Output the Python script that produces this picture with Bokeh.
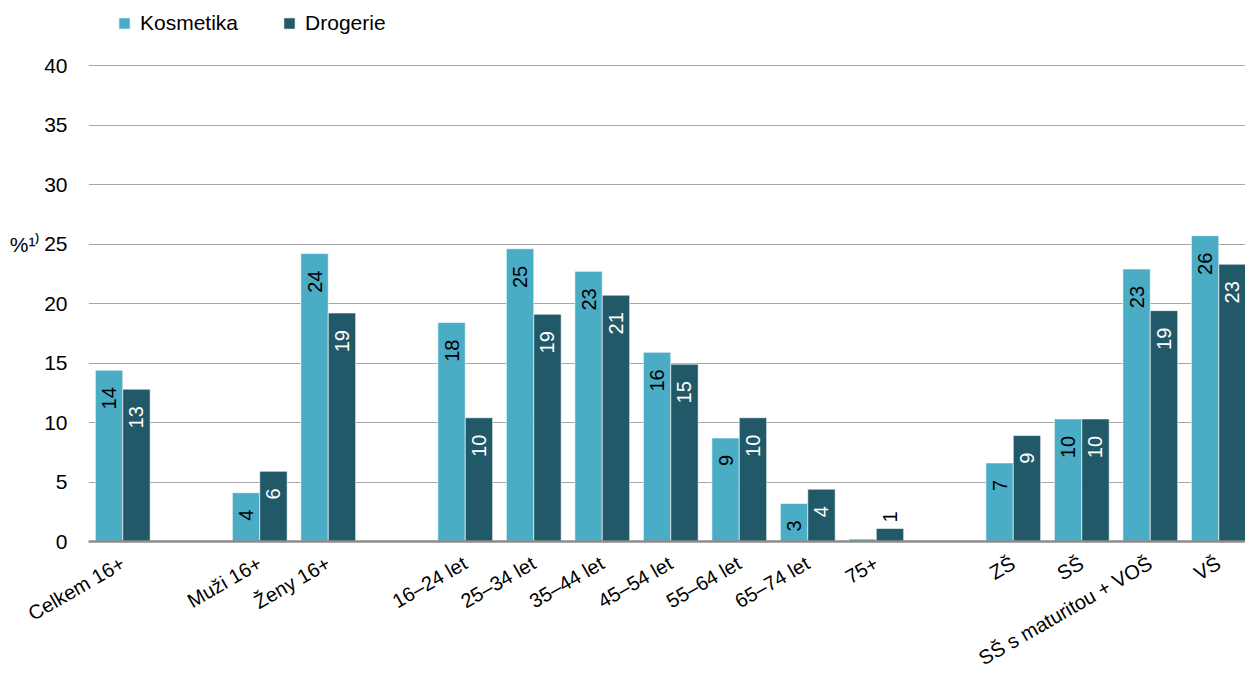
import math
from bokeh.plotting import figure
from bokeh.models import ColumnDataSource, Range1d, FixedTicker, Legend, LegendItem, LinearAxis
from bokeh.core.properties import value
from bokeh.embed import file_html
from bokeh.resources import INLINE

# ---- data (gaps are empty slots) ----
categories = ["Celkem 16+", "", "Muži 16+", "Ženy 16+", "", "16–24 let", "25–34 let",
              "35–44 let", "45–54 let", "55–64 let", "65–74 let", "75+", "",
              "ZŠ", "SŠ", "SŠ s maturitou + VOŠ", "VŠ"]
kosmetika = [14.4, None, 4.1, 24.2, None, 18.4, 24.6, 22.7, 15.9, 8.7, 3.2, 0.2, None,
             6.6, 10.3, 22.9, 25.7]
drogerie = [12.8, None, 5.9, 19.2, None, 10.4, 19.1, 20.7, 14.9, 10.4, 4.4, 1.1, None,
            8.9, 10.3, 19.4, 23.3]
y_ticks = [0, 5, 10, 15, 20, 25, 30, 35, 40]
series_names = ["Kosmetika", "Drogerie"]
series_colors = ["#4BACC6", "#215968"]
label_colors = ["#000000", "#FFFFFF"]
unit_label = "%¹⁾"
unit_level = 25

FONT = "Liberation Sans"
W, H = 1245, 682
BL, BT, BB, BR = 88, 0, 141, 0
frame_h = H - BT - BB
frame_w = W - BL - BR
top_gap_px = 65          # space above the 40 gridline (room for the legend)
y_end = 40 * frame_h / (frame_h - top_gap_px)
x_end = 16.89
px_y = y_end / frame_h  # data units per pixel (y)

p = figure(width=W, height=H, output_backend="svg", toolbar_location=None,
           x_range=Range1d(0, x_end), y_range=Range1d(0, y_end),
           min_border_left=BL, min_border_top=BT, min_border_bottom=BB, min_border_right=BR)
p.outline_line_color = None
p.background_fill_color = "white"
p.border_fill_color = "white"

bw = 0.4
renderers = []
for s, (vals, col) in enumerate(zip([kosmetika, drogerie], series_colors)):
    xs, tops = [], []
    for i, v in enumerate(vals):
        if v is None:
            continue
        xs.append(i + 0.5 + (s - 0.5) * bw)
        tops.append(v)
    src = ColumnDataSource(dict(x=xs, top=tops))
    r = p.vbar(x="x", top="top", width=bw, bottom=0, source=src,
               fill_color=col, line_color="white", line_width=0.6)
    renderers.append(r)

    # data labels
    ix, iy, it = [], [], []
    ox, oy, ot = [], [], []
    for x, v in zip(xs, tops):
        lab = str(int(v + 0.5))
        if v < 0.5:
            continue
        if v < 2:
            ox.append(x); oy.append(v + 6 * px_y); ot.append(lab)
        else:
            ix.append(x); iy.append(v - 17 * px_y); it.append(lab)
    p.text(x="x", y="y", text="t", source=ColumnDataSource(dict(x=ix, y=iy, t=it)),
           angle=math.pi / 2, text_align="right", text_baseline="middle",
           text_font=value(FONT), text_font_size="20px", text_color=label_colors[s])
    if ox:
        p.text(x="x", y="y", text="t", source=ColumnDataSource(dict(x=ox, y=oy, t=ot)),
               angle=math.pi / 2, text_align="left", text_baseline="middle",
               text_font=value(FONT), text_font_size="20px", text_color="#000000")

# axes
tick_pos = [i + 0.5 for i, c in enumerate(categories) if c]
p.xaxis.ticker = FixedTicker(ticks=tick_pos)
p.xaxis.major_label_overrides = {i + 0.5: c for i, c in enumerate(categories) if c}
p.xaxis.major_label_orientation = math.pi / 6
p.xaxis.major_label_text_font = FONT
p.xaxis.major_label_text_font_size = "20px"
p.xaxis.major_label_text_color = "#000000"
p.xaxis.major_tick_line_color = None
p.xaxis.minor_tick_line_color = None
p.xaxis.axis_line_color = "#8C8C8C"
p.xaxis.axis_line_width = 2.5
p.xaxis.major_label_standoff = 14
p.xgrid.grid_line_color = None

p.yaxis.ticker = FixedTicker(ticks=y_ticks)
p.yaxis.major_label_text_font = FONT
p.yaxis.major_label_text_font_size = "21px"
p.yaxis.major_label_text_color = "#000000"
p.yaxis.major_tick_line_color = None
p.yaxis.minor_tick_line_color = None
p.yaxis.axis_line_color = None
p.yaxis.major_label_standoff = 15
p.ygrid.grid_line_color = "#A6A6A6"
p.ygrid.grid_line_width = 1.2

# unit label "%1)" as a second left axis with a single tick at the 25 level
unit_axis = LinearAxis(ticker=FixedTicker(ticks=[unit_level]),
                       major_label_overrides={unit_level: unit_label},
                       axis_line_color=None, major_tick_line_color=None,
                       minor_tick_line_color=None, major_label_standoff=-5,
                       major_label_text_font=FONT, major_label_text_font_size="21px",
                       major_label_text_color="#000000")
p.add_layout(unit_axis, "left")

legend = Legend(items=[LegendItem(label=n, renderers=[r]) for n, r in zip(series_names, renderers)],
                orientation="horizontal", location=(29, frame_h - 35),
                glyph_width=14, glyph_height=14, label_standoff=9, spacing=44,
                padding=0, margin=0, border_line_color=None, background_fill_alpha=0,
                label_text_font=FONT, label_text_font_size="21px", label_text_color="#000000")
p.add_layout(legend, "center")

open("out.html", "w").write(file_html(p, INLINE))
